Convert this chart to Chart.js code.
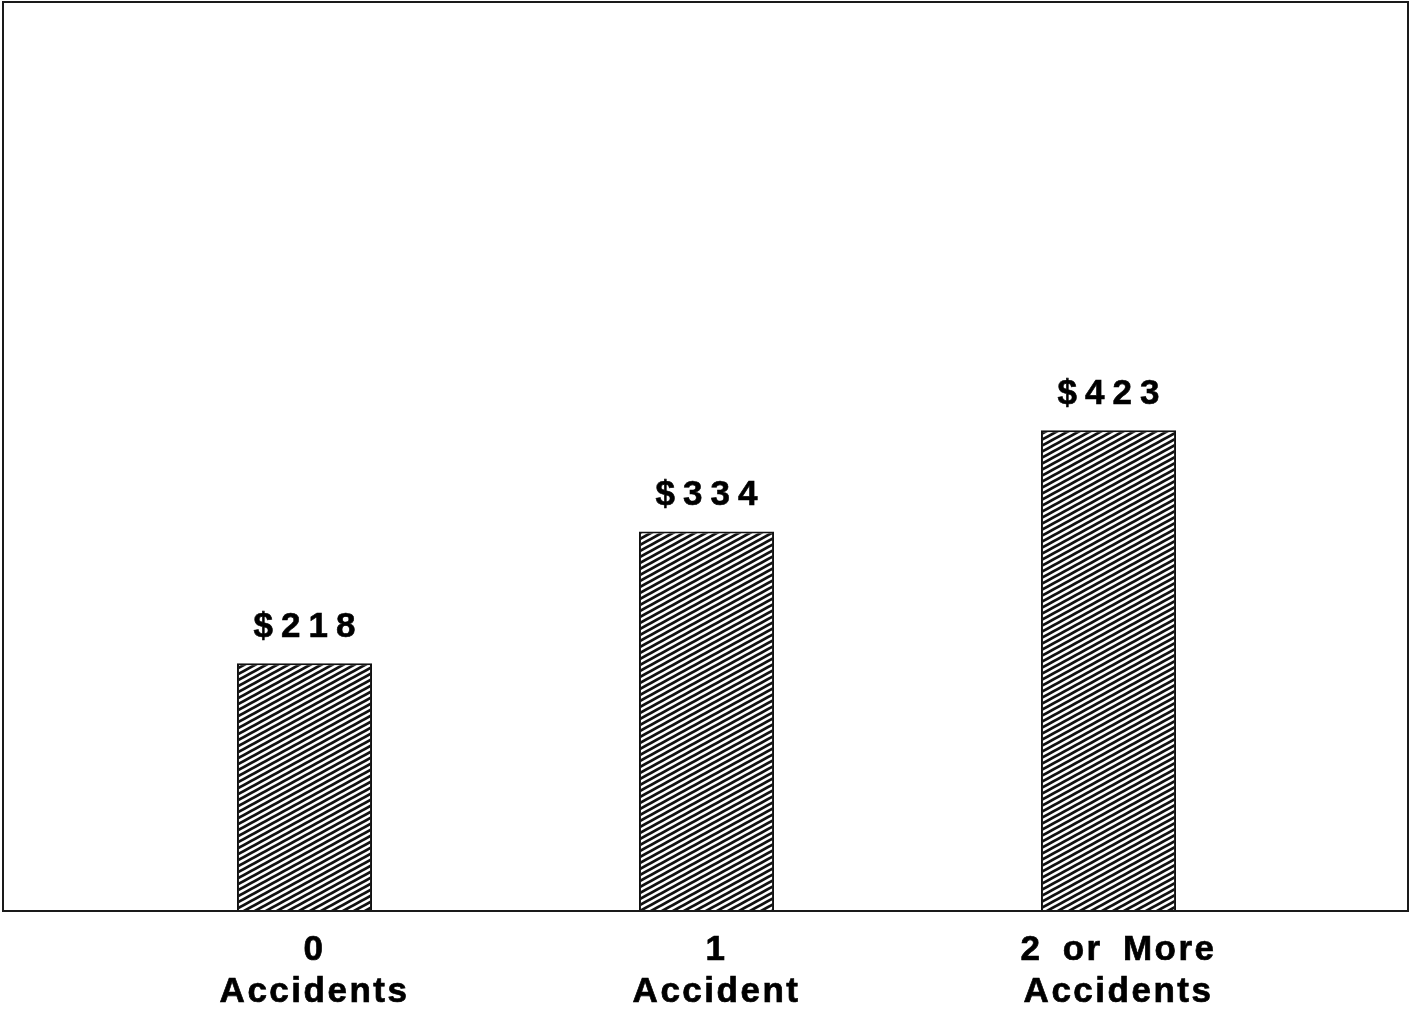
<!DOCTYPE html>
<html>
<head>
<meta charset="utf-8">
<script src="https://cdn.jsdelivr.net/npm/chart.js@4/dist/chart.umd.min.js"></script>
<style>
  html, body { margin: 0; padding: 0; background: #fff; }
  #wrap { width: 1410px; height: 1017px; }
</style>
</head>
<body>
<div id="wrap"><canvas id="c" width="1410" height="1017"></canvas></div>
<script>
// Average cost by number of accidents
const categories = [['0', 'Accidents'], ['1', 'Accident'], ['2 or More', 'Accidents']];
const positions = [0, 1, 2];
const costs = [218, 334, 423];

// Diagonal hatch fill for the bars
function makeHatch() {
  const w = 11, h = 6;
  const t = document.createElement('canvas');
  t.width = w; t.height = h;
  const g = t.getContext('2d');
  g.fillStyle = '#ffffff';
  g.fillRect(0, 0, w, h);
  g.strokeStyle = '#111111';
  g.lineWidth = 2.8;
  for (let k = -1; k <= 1; k++) {
    g.beginPath();
    g.moveTo(-1, h + h / w + k * h);
    g.lineTo(w + 1, -h / w + k * h);
    g.stroke();
  }
  return g.createPattern(t, 'repeat');
}

const FONT = '"Liberation Sans", Arial, Helvetica, sans-serif';

// Frame around the plot area and letter spacing for tick text
const framePlugin = {
  id: 'frame',
  beforeDraw(chart) {
    const ctx = chart.ctx;
    ctx.letterSpacing = '2.5px';
    ctx.wordSpacing = '8px';
  },
  afterDraw(chart) {
    const { ctx, chartArea: a } = chart;
    ctx.save();
    ctx.strokeStyle = '#1a1a1a';
    ctx.lineWidth = 2;
    ctx.strokeRect(a.left, a.top, a.right - a.left, a.bottom - a.top);
    ctx.restore();
  }
};

// Dollar value above each bar
const valuePlugin = {
  id: 'values',
  afterDatasetsDraw(chart) {
    const ctx = chart.ctx;
    const meta = chart.getDatasetMeta(0);
    ctx.save();
    ctx.font = 'bold 35px ' + FONT;
    ctx.letterSpacing = '8px';
    ctx.fillStyle = '#000';
    ctx.textAlign = 'center';
    ctx.textBaseline = 'middle';
    ctx.strokeStyle = '#000';
    ctx.lineWidth = 0.6;
    meta.data.forEach((bar, i) => {
      ctx.fillText('$' + costs[i], bar.x + 4, bar.y - 36);
      ctx.strokeText('$' + costs[i], bar.x + 4, bar.y - 36);
    });
    ctx.restore();
  }
};

new Chart(document.getElementById('c'), {
  type: 'bar',
  data: {
    datasets: [{
      data: positions.map((x, i) => ({ x: x, y: costs[i] })),
      backgroundColor: makeHatch(),
      borderColor: '#111',
      borderWidth: 2,
      barPercentage: 0.336,
      categoryPercentage: 1
    }]
  },
  options: {
    responsive: false,
    animation: false,
    devicePixelRatio: 1,
    layout: { padding: { left: 3, right: 2, top: 2, bottom: 0 } },
    plugins: { legend: { display: false }, tooltip: { enabled: false } },
    scales: {
      x: {
        type: 'linear',
        offset: false,
        min: -0.75,
        max: 2.745,
        grid: { display: false, drawTicks: false },
        border: { display: false },
        afterBuildTicks(scale) { scale.ticks = positions.map(v => ({ value: v })); },
        afterFit(scale) { scale.height = 106; },
        ticks: {
          padding: 18,
          labelOffset: 10,
          maxRotation: 0,
          autoSkip: false,
          color: '#000',
          textStrokeColor: '#000',
          textStrokeWidth: 0.7,
          font: { family: FONT, size: 35, weight: 'bold', lineHeight: 1.2 },
          callback: (v) => categories[v]
        }
      },
      y: {
        display: false,
        min: 0,
        max: 800
      }
    }
  },
  plugins: [framePlugin, valuePlugin]
});
</script>
</body>
</html>
